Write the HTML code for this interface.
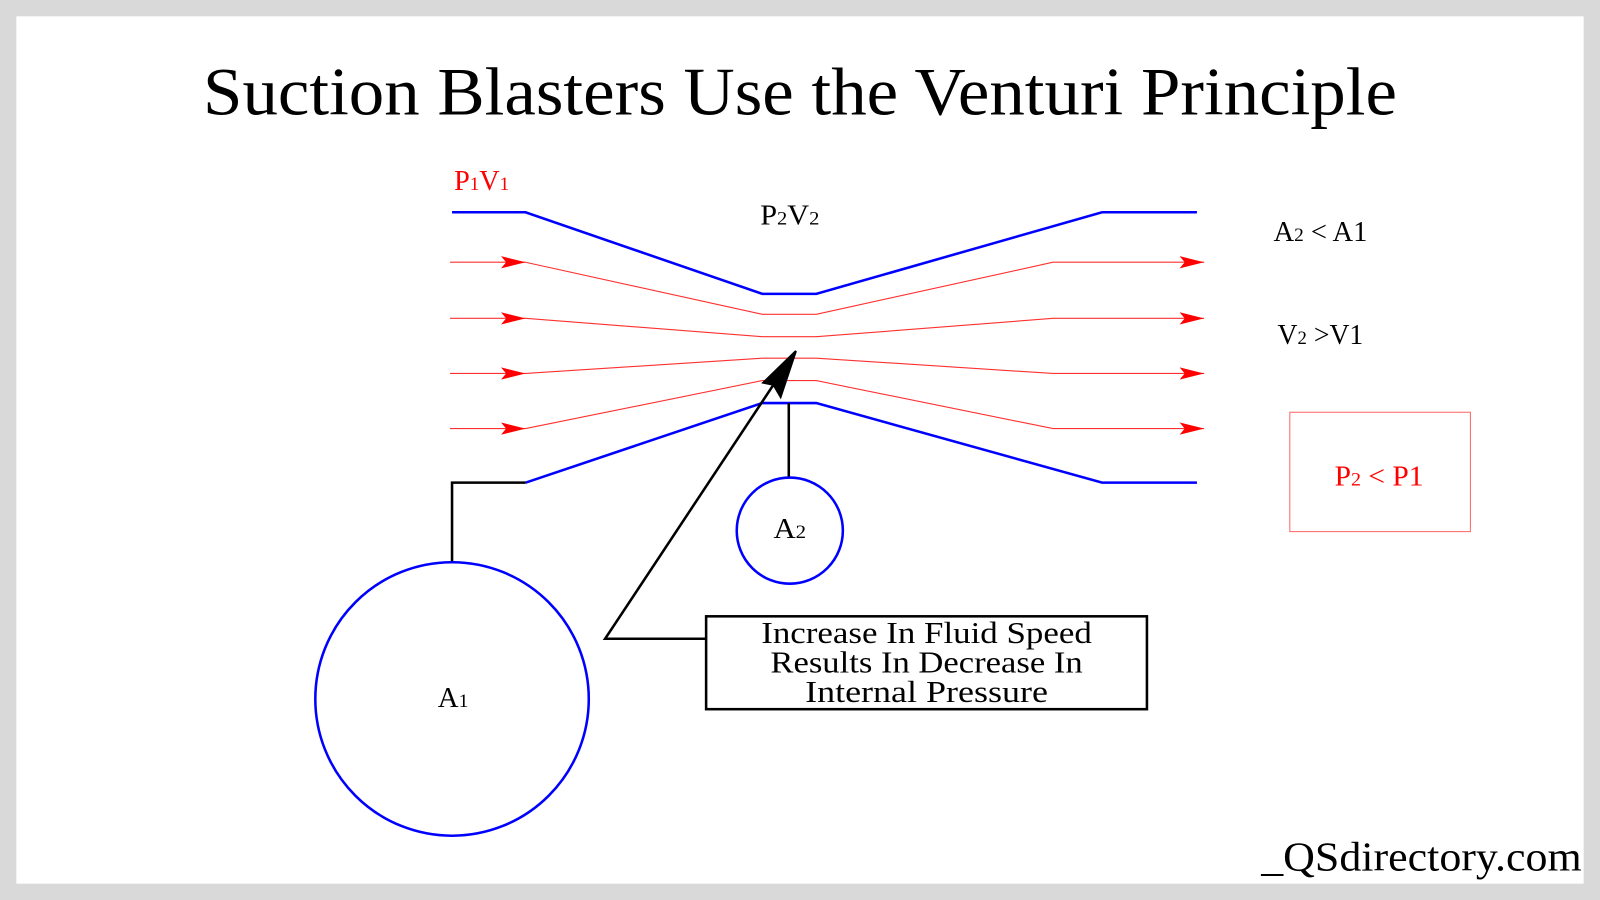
<!DOCTYPE html>
<html><head><meta charset="utf-8"><style>
html,body{margin:0;padding:0;background:#d9d9d9;}
svg{display:block;}
text{font-family:"Liberation Serif","DejaVu Serif",serif;}
</style></head><body>
<svg width="1600" height="900" viewBox="0 0 1568 882" preserveAspectRatio="none" xmlns="http://www.w3.org/2000/svg">
<defs>
<marker id="ra" markerWidth="24" markerHeight="12" refX="24" refY="6" orient="auto" markerUnits="userSpaceOnUse">
<path d="M0,0 L24,6 L0,12 L5,6 Z" fill="#ff0000"/></marker>
</defs>
<rect x="0" y="0" width="1568" height="882" fill="#d9d9d9"/>
<rect x="16" y="16" width="1536" height="850" fill="#fff"/>
<text x="784" y="112" font-size="66" text-anchor="middle" textLength="1170" lengthAdjust="spacingAndGlyphs">Suction Blasters Use the Venturi Principle</text>
<g fill="none" stroke="#ff3030" stroke-width="1.1">
<line x1="441" y1="257" x2="515" y2="257" marker-end="url(#ra)"/>
<line x1="441" y1="312" x2="515" y2="312" marker-end="url(#ra)"/>
<line x1="441" y1="366" x2="515" y2="366" marker-end="url(#ra)"/>
<line x1="441" y1="420" x2="515" y2="420" marker-end="url(#ra)"/>
<polyline points="515,257 747,308 800,308 1032,257 1180,257" marker-end="url(#ra)"/>
<polyline points="515,312 747,330 800,330 1032,312 1180,312" marker-end="url(#ra)"/>
<polyline points="515,366 747,351 800,351 1032,366 1180,366" marker-end="url(#ra)"/>
<polyline points="515,420 747,373 800,373 1032,420 1180,420" marker-end="url(#ra)"/>
</g>
<g fill="none" stroke="#0000ff" stroke-width="2.5">
<polyline points="443,208 515,208 747,288 800,288 1080,208 1173,208"/>
<polyline points="515,473 747,395 800,395 1080,473 1173,473"/>
<circle cx="443" cy="685" r="134"/>
<circle cx="774" cy="520" r="52"/>
</g>
<g fill="none" stroke="#000" stroke-width="2.5">
<polyline points="443,550 443,473 515,473"/>
<line x1="773" y1="395" x2="773" y2="467"/>
<polyline points="692,626 593,626 764,368"/>
<rect x="692" y="604" width="432" height="91"/>
</g>
<path d="M780,344 L765,389 L758,377 L748,375 Z" fill="#000" stroke="#000" stroke-width="2"/>
<rect x="1264" y="404" width="177" height="117" fill="none" stroke="#ff6666" stroke-width="1"/>
<g font-size="28">
<text x="445" y="186" fill="#ff0000" textLength="54" lengthAdjust="spacingAndGlyphs">P<tspan font-size="19">1</tspan>V<tspan font-size="19">1</tspan></text>
<text x="745" y="220" textLength="58" lengthAdjust="spacingAndGlyphs">P<tspan font-size="19">2</tspan>V<tspan font-size="19">2</tspan></text>
<text x="1248" y="236" textLength="92" lengthAdjust="spacingAndGlyphs">A<tspan font-size="19">2</tspan> &lt; A1</text>
<text x="1252" y="337" textLength="84" lengthAdjust="spacingAndGlyphs">V<tspan font-size="19">2</tspan> &gt;V1</text>
<text x="1308" y="476" fill="#ff0000" textLength="87" lengthAdjust="spacingAndGlyphs">P<tspan font-size="19">2</tspan> &lt; P1</text>
<text x="758" y="527" textLength="32" lengthAdjust="spacingAndGlyphs">A<tspan font-size="19">2</tspan></text>
<text x="429" y="693" textLength="30" lengthAdjust="spacingAndGlyphs">A<tspan font-size="19">1</tspan></text>
</g>
<g font-size="30" text-anchor="middle">
<text x="908" y="630" textLength="324" lengthAdjust="spacingAndGlyphs">Increase In Fluid Speed</text>
<text x="908" y="659" textLength="306" lengthAdjust="spacingAndGlyphs">Results In Decrease In</text>
<text x="908" y="688" textLength="238" lengthAdjust="spacingAndGlyphs">Internal Pressure</text>
</g>
<text x="1236" y="853" font-size="40" textLength="314" lengthAdjust="spacingAndGlyphs">_QSdirectory.com</text>
</svg>
</body></html>
